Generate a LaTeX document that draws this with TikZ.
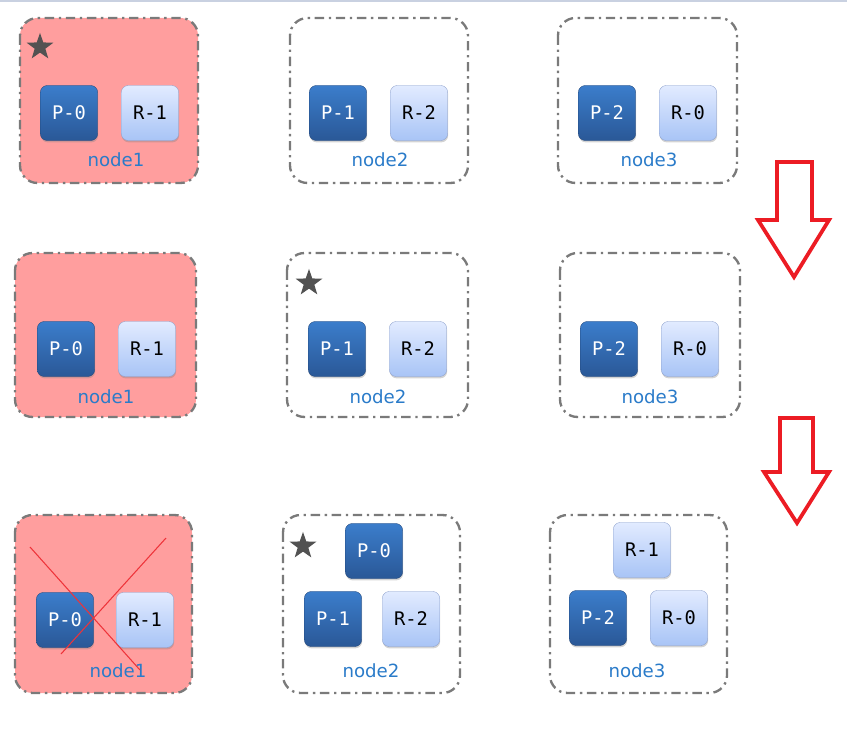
\documentclass[tikz,border=0pt]{standalone}
\usepackage{fontspec}
\setmainfont{DejaVu Sans}
\setmonofont{DejaVu Sans Mono}
\usetikzlibrary{shapes.geometric,shadows}

\definecolor{hostred}{HTML}{FF9E9E}
\definecolor{hostedge}{HTML}{7A7A7A}
\definecolor{primtop}{HTML}{3B7DCB}
\definecolor{primbot}{HTML}{2A5897}
\definecolor{reptop}{HTML}{E2EBFF}
\definecolor{repbot}{HTML}{A8C4F6}
\definecolor{repedge}{HTML}{8CA0CC}
\definecolor{labelblue}{HTML}{2A7BC9}
\definecolor{arrowred}{HTML}{EC1C24}
\definecolor{topline}{HTML}{C9D1E1}

\tikzset{
  host/.style={draw=hostedge, line width=2pt, rounded corners=15pt,
    dash pattern=on 8pt off 4pt on 2pt off 4pt},
  down/.style={host, fill=hostred},
  prim/.style={rectangle, rounded corners=6pt, minimum width=49pt, minimum height=47pt,
    top color=primtop, bottom color=primbot, draw=primbot!80!black, line width=0.3pt,
    text=white, font=\ttfamily\fontsize{16}{16}\selectfont,
    drop shadow={shadow xshift=0.4pt, shadow yshift=-1.6pt, opacity=0.35}},
  rep/.style={prim, top color=reptop, bottom color=repbot, draw=repedge, text=black},
  hostlabel/.style={text=labelblue, font=\fontsize{15.5}{15.5}\selectfont},
  leader/.style={star, star points=5, star point ratio=2.5, fill=black!68,
    minimum size=24pt, inner sep=0pt},
  bigarrow/.style={draw=arrowred, fill=white, line width=3.2pt, line join=miter}
}

\begin{document}
\begin{tikzpicture}[x=0.03cm, y=-0.03cm]
    \useasboundingbox (0,0) rectangle (847,734);
    % Draw the strip at the top
    \fill[topline] (0,0) rectangle (847,2.5);

    % Draw the first row
    \draw[down] (20,18) rectangle (198,183);
    \node[leader] (star1) at (40,47) {};
    \node[prim] (a-p0) at (69,113) {P-0};
    \node[rep] (a-r1) at (150,113) {R-1};
    \node[hostlabel] (a-n1) at (116,160) {node1};

    \draw[host] (290,18) rectangle (468,183);
    \node[prim] (a-p1) at (338,113) {P-1};
    \node[rep] (a-r2) at (419,113) {R-2};
    \node[hostlabel] (a-n2) at (380,160) {node2};

    \draw[host] (558,18) rectangle (737,183);
    \node[prim] (a-p2) at (607,113) {P-2};
    \node[rep] (a-r0) at (688,113) {R-0};
    \node[hostlabel] (a-n3) at (649,160) {node3};

    % Draw the second row
    \draw[down] (15,253) rectangle (196,417);
    \node[prim] (b-p0) at (66,349) {P-0};
    \node[rep] (b-r1) at (147,349) {R-1};
    \node[hostlabel] (b-n1) at (106,397) {node1};

    \draw[host] (287,253) rectangle (468,417);
    \node[leader] (star2) at (309,283) {};
    \node[prim] (b-p1) at (337,349) {P-1};
    \node[rep] (b-r2) at (418,349) {R-2};
    \node[hostlabel] (b-n2) at (378,397) {node2};

    \draw[host] (560,253) rectangle (740,417);
    \node[prim] (b-p2) at (609,349) {P-2};
    \node[rep] (b-r0) at (690,349) {R-0};
    \node[hostlabel] (b-n3) at (650,397) {node3};

    % Draw the third row
    \draw[down] (15,515) rectangle (192,693);
    \node[prim] (c-p0) at (65,620) {P-0};
    \node[rep] (c-r1) at (145,620) {R-1};
    \node[hostlabel] (c-n1) at (118,671) {node1};
    \draw[arrowred!90, line width=0.9pt] (30,547) -- (140,670);
    \draw[arrowred!90, line width=0.9pt] (61,654) -- (166,538);

    \draw[host] (283,515) rectangle (460,693);
    \node[leader] (star3) at (303,546) {};
    \node[prim] (c-p0b) at (374,551) {P-0};
    \node[prim] (c-p1) at (333,619) {P-1};
    \node[rep] (c-r2) at (411,619) {R-2};
    \node[hostlabel] (c-n2) at (371,671) {node2};

    \draw[host] (550,515) rectangle (727,693);
    \node[rep] (c-r1b) at (642,550) {R-1};
    \node[prim] (c-p2) at (598,618) {P-2};
    \node[rep] (c-r0) at (679,618) {R-0};
    \node[hostlabel] (c-n3) at (637,671) {node3};

    % Draw the two block arrows
    \draw[bigarrow] (777,162) -- (812,162) -- (812,220) -- (829,220) -- (794,277)
        -- (758,220) -- (777,220) -- cycle;
    \draw[bigarrow] (780,418) -- (813,418) -- (813,472) -- (829,472) -- (797,523)
        -- (764,472) -- (780,472) -- cycle;
\end{tikzpicture}
\end{document}
